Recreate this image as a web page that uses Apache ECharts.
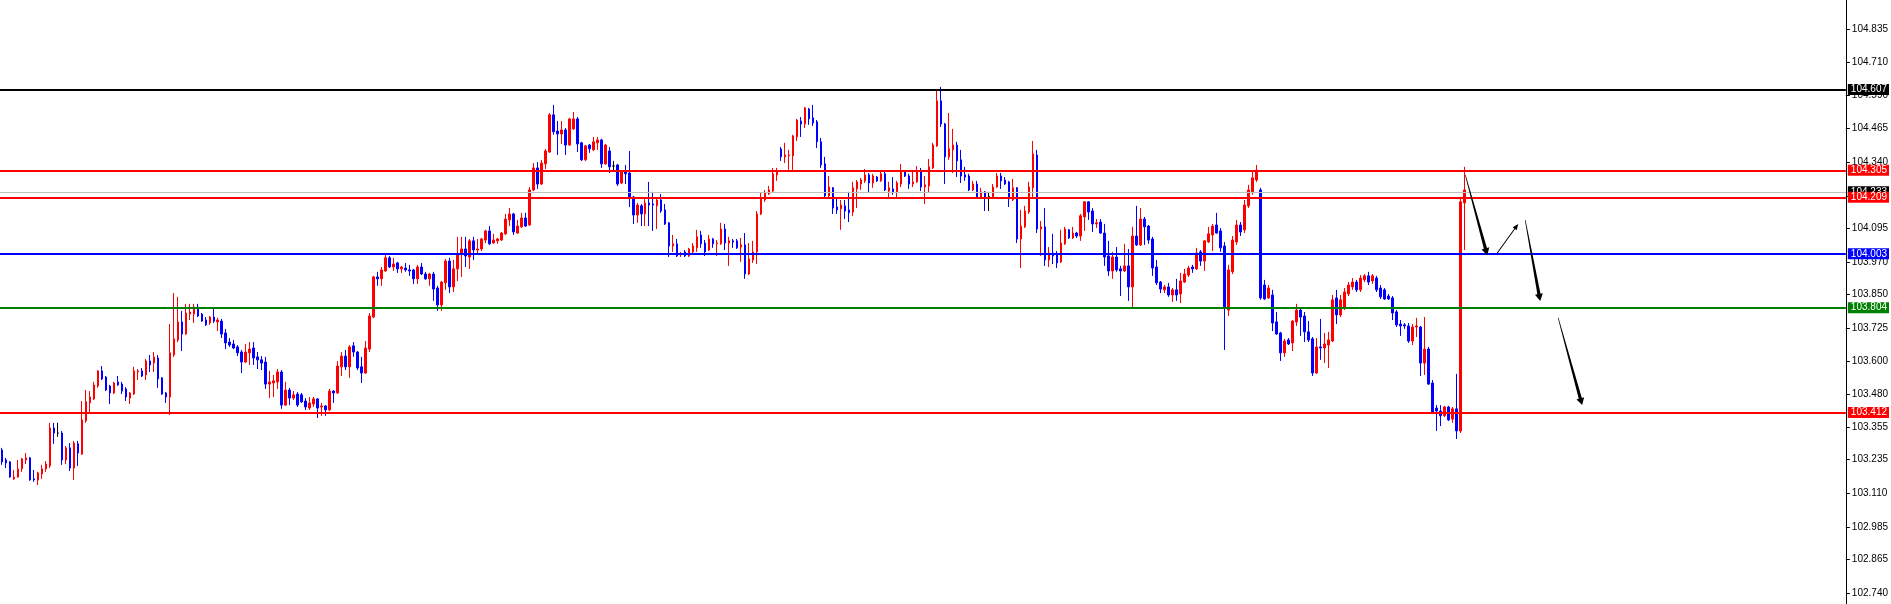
<!DOCTYPE html>
<html><head><meta charset="utf-8">
<script src="https://cdn.jsdelivr.net/npm/echarts@6/dist/echarts.min.js"></script>
<style>html,body{margin:0;padding:0;background:#fff;}#c{width:1891px;height:604px;}</style>
</head><body><div id="c"></div>
<script>
const opens = [
103.271,103.234,103.227,103.164,103.171,103.201,103.234,103.242,103.164,103.160,
103.182,103.201,103.212,103.353,103.334,103.334,103.234,103.279,103.204,103.294,
103.256,103.379,103.446,103.461,103.509,103.565,103.542,103.509,103.483,103.524,
103.516,103.498,103.464,103.479,103.561,103.565,103.550,103.602,103.594,103.613,
103.539,103.483,103.468,103.624,103.680,103.747,103.702,103.776,103.776,103.802,
103.776,103.754,103.743,103.765,103.747,103.750,103.706,103.672,103.665,103.654,
103.635,103.598,103.632,103.650,103.617,103.606,103.598,103.516,103.520,103.524,
103.561,103.438,103.494,103.464,103.479,103.476,103.453,103.427,103.442,103.461,
103.431,103.435,103.420,103.490,103.483,103.580,103.620,103.580,103.658,103.635,
103.580,103.557,103.646,103.765,103.914,103.907,103.936,103.985,103.951,103.966,
103.944,103.947,103.940,103.940,103.907,103.951,103.925,103.907,103.925,103.873,
103.810,103.892,103.973,103.877,103.944,103.999,104.018,103.988,104.048,104.014,
104.018,104.051,104.085,104.040,104.048,104.051,104.074,104.126,104.148,104.077,
104.100,104.133,104.107,104.237,104.319,104.259,104.334,104.378,104.516,104.456,
104.445,104.460,104.404,104.464,104.501,104.412,104.349,104.404,104.386,104.412,
104.423,104.334,104.382,104.326,104.330,104.263,104.304,104.300,104.211,104.144,
104.178,104.148,104.189,104.185,104.178,104.200,104.163,104.115,104.029,104.037,
103.996,104.007,103.992,104.007,104.022,104.070,104.040,104.014,104.055,104.037,
104.037,104.092,104.040,104.048,104.048,104.025,104.033,103.925,103.977,104.007,
104.148,104.200,104.222,104.233,104.293,104.389,104.360,104.364,104.364,104.434,
104.493,104.482,104.538,104.505,104.490,104.416,104.334,104.215,104.245,104.174,
104.167,104.178,104.163,104.155,104.241,104.259,104.271,104.293,104.263,104.285,
104.271,104.297,104.233,104.241,104.230,104.259,104.304,104.289,104.259,104.267,
104.308,104.248,104.252,104.319,104.401,104.568,104.482,104.360,104.386,104.404,
104.349,104.293,104.289,104.237,104.259,104.211,104.230,104.213,104.211,104.248,
104.289,104.274,104.267,104.200,104.245,104.055,104.100,104.155,104.245,104.367,
104.092,104.100,103.977,104.003,103.996,103.970,104.037,104.089,104.059,104.077,
104.066,104.137,104.193,104.159,104.111,104.118,104.077,103.992,103.936,103.988,
103.944,103.936,103.955,103.877,104.066,104.033,104.129,104.103,104.055,103.951,
103.895,103.866,103.877,103.847,103.866,103.851,103.895,103.921,103.951,103.944,
104.007,103.973,104.044,104.070,104.107,104.085,104.029,103.791,103.933,104.044,
104.107,104.089,104.178,104.230,104.274,104.237,103.884,103.836,103.847,103.747,
103.706,103.632,103.680,103.669,103.747,103.791,103.769,103.710,103.684,103.557,
103.654,103.650,103.661,103.676,103.836,103.773,103.799,103.851,103.877,103.895,
103.866,103.903,103.918,103.899,103.910,103.873,103.866,103.843,103.836,103.784,
103.739,103.736,103.732,103.676,103.728,103.728,103.594,103.646,103.520,103.427,
103.416,103.398,103.431,103.386,103.424,103.342,104.189
];
const closes = [
103.227,103.223,103.171,103.171,103.201,103.238,103.242,103.160,103.160,103.186,
103.201,103.219,103.353,103.334,103.334,103.234,103.279,103.204,103.297,103.260,
103.383,103.450,103.468,103.513,103.565,103.535,103.494,103.483,103.520,103.513,
103.490,103.468,103.483,103.565,103.565,103.546,103.602,103.587,103.617,103.535,
103.479,103.468,103.632,103.684,103.747,103.702,103.780,103.784,103.802,103.769,
103.750,103.736,103.765,103.750,103.754,103.702,103.669,103.661,103.650,103.632,
103.598,103.635,103.646,103.613,103.606,103.594,103.516,103.524,103.528,103.561,
103.438,103.494,103.464,103.476,103.438,103.450,103.431,103.446,103.461,103.427,
103.435,103.420,103.490,103.483,103.583,103.620,103.580,103.654,103.635,103.576,
103.557,103.650,103.769,103.914,103.907,103.940,103.985,103.951,103.962,103.944,
103.951,103.940,103.936,103.907,103.951,103.925,103.907,103.925,103.869,103.810,
103.895,103.973,103.877,103.944,103.999,104.018,103.992,104.048,104.014,104.018,
104.055,104.085,104.037,104.051,104.055,104.077,104.129,104.148,104.081,104.103,
104.133,104.103,104.237,104.319,104.259,104.337,104.382,104.516,104.453,104.445,
104.460,104.404,104.501,104.501,104.408,104.349,104.401,104.390,104.416,104.423,
104.334,104.404,104.323,104.326,104.259,104.304,104.297,104.207,104.144,104.181,
104.148,104.189,104.181,104.181,104.200,104.159,104.111,104.029,104.037,103.992,
103.999,103.992,104.018,104.029,104.063,104.037,104.007,104.055,104.037,104.040,
104.092,104.040,104.048,104.044,104.022,104.033,103.925,103.981,104.007,104.148,
104.204,104.226,104.237,104.297,104.304,104.360,104.367,104.367,104.438,104.497,
104.482,104.542,104.501,104.486,104.416,104.330,104.215,104.248,104.170,104.163,
104.181,104.159,104.152,104.245,104.267,104.274,104.293,104.263,104.289,104.271,
104.297,104.237,104.245,104.230,104.263,104.304,104.289,104.259,104.267,104.308,
104.248,104.256,104.323,104.404,104.568,104.482,104.360,104.390,104.404,104.345,
104.289,104.285,104.237,104.259,104.211,104.230,104.211,104.213,104.248,104.289,
104.271,104.259,104.204,104.245,104.055,104.103,104.159,104.248,104.371,104.092,
104.100,103.977,104.003,103.992,103.966,104.040,104.092,104.059,104.077,104.066,
104.141,104.193,104.155,104.111,104.115,104.077,103.988,103.936,103.988,103.940,
103.936,103.955,103.877,104.066,104.033,104.129,104.100,104.051,103.947,103.892,
103.869,103.877,103.847,103.866,103.847,103.899,103.925,103.947,103.944,104.003,
103.973,104.048,104.074,104.103,104.077,104.022,103.799,103.940,104.051,104.107,
104.081,104.181,104.237,104.282,104.311,103.836,103.832,103.873,103.743,103.702,
103.632,103.676,103.665,103.750,103.791,103.765,103.710,103.680,103.557,103.654,
103.650,103.665,103.680,103.829,103.773,103.829,103.858,103.884,103.895,103.866,
103.910,103.918,103.895,103.918,103.866,103.840,103.832,103.832,103.780,103.736,
103.732,103.732,103.676,103.728,103.732,103.594,103.646,103.516,103.412,103.416,
103.398,103.431,103.383,103.424,103.342,104.193,104.237
];
const lows = [
103.216,103.204,103.168,103.160,103.168,103.190,103.219,103.157,103.153,103.141,
103.164,103.190,103.204,103.294,103.320,103.216,103.219,103.193,103.160,103.212,
103.253,103.372,103.412,103.457,103.502,103.531,103.490,103.442,103.479,103.509,
103.479,103.453,103.442,103.476,103.531,103.542,103.531,103.561,103.561,103.502,
103.476,103.446,103.401,103.617,103.672,103.639,103.699,103.754,103.743,103.765,
103.747,103.732,103.736,103.743,103.713,103.687,103.646,103.654,103.646,103.620,
103.557,103.594,103.587,103.587,103.572,103.568,103.498,103.464,103.468,103.498,
103.424,103.435,103.438,103.457,103.431,103.446,103.420,103.420,103.431,103.390,
103.398,103.398,103.416,103.446,103.479,103.546,103.568,103.539,103.617,103.568,
103.520,103.554,103.635,103.761,103.881,103.881,103.933,103.947,103.936,103.929,
103.929,103.933,103.918,103.888,103.888,103.921,103.903,103.881,103.825,103.788,
103.788,103.866,103.854,103.858,103.899,103.914,103.951,103.944,103.977,103.996,
104.010,104.040,104.033,104.037,104.037,104.048,104.070,104.103,104.070,104.074,
104.096,104.100,104.103,104.233,104.241,104.256,104.315,104.375,104.442,104.367,
104.408,104.367,104.401,104.460,104.378,104.345,104.345,104.375,104.382,104.386,
104.319,104.330,104.300,104.308,104.252,104.259,104.259,104.174,104.111,104.115,
104.103,104.103,104.103,104.085,104.092,104.152,104.107,103.988,104.007,103.988,
103.988,103.988,103.988,103.999,104.007,104.022,103.992,104.010,104.022,103.992,
104.033,104.014,103.955,104.022,104.018,103.970,103.907,103.921,103.966,103.962,
104.144,104.193,104.219,104.230,104.271,104.345,104.337,104.308,104.308,104.419,
104.434,104.467,104.479,104.475,104.393,104.319,104.211,104.211,104.148,104.148,
104.089,104.129,104.118,104.141,104.170,104.237,104.263,104.226,104.245,104.267,
104.267,104.233,104.211,104.219,104.204,104.248,104.285,104.241,104.248,104.263,
104.233,104.185,104.226,104.315,104.397,104.471,104.259,104.349,104.300,104.285,
104.263,104.271,104.233,104.233,104.207,104.204,104.159,104.159,104.207,104.245,
104.241,104.256,104.174,104.196,104.040,103.947,104.096,104.148,104.204,104.077,
103.992,103.955,103.951,103.962,103.947,103.966,104.033,104.055,104.055,104.059,
104.048,104.085,104.126,104.081,104.096,104.074,103.955,103.918,103.907,103.933,
103.843,103.933,103.825,103.795,104.029,104.029,104.033,104.037,103.918,103.884,
103.854,103.854,103.840,103.821,103.825,103.817,103.892,103.914,103.929,103.940,
103.955,103.936,104.040,104.010,104.074,104.007,103.643,103.769,103.925,104.033,
104.066,104.077,104.170,104.219,104.267,103.829,103.829,103.832,103.713,103.699,
103.602,103.617,103.661,103.639,103.732,103.695,103.672,103.672,103.546,103.554,
103.606,103.594,103.576,103.672,103.739,103.765,103.791,103.843,103.866,103.858,
103.858,103.895,103.884,103.888,103.858,103.832,103.829,103.829,103.754,103.728,
103.695,103.721,103.669,103.661,103.691,103.546,103.550,103.513,103.409,103.342,
103.360,103.394,103.379,103.372,103.312,103.334,104.014
];
const highs = [
103.279,103.242,103.230,103.197,103.234,103.242,103.260,103.245,103.197,103.190,
103.216,103.230,103.372,103.372,103.372,103.342,103.286,103.297,103.305,103.305,
103.453,103.494,103.490,103.524,103.568,103.583,103.546,103.513,103.524,103.546,
103.524,103.505,103.487,103.580,103.572,103.576,103.609,103.624,103.635,103.624,
103.542,103.487,103.739,103.854,103.840,103.788,103.814,103.814,103.814,103.814,
103.780,103.765,103.769,103.802,103.762,103.758,103.721,103.687,103.680,103.661,
103.643,103.665,103.672,103.672,103.635,103.620,103.617,103.565,103.550,103.572,
103.568,103.524,103.502,103.490,103.487,103.483,103.464,103.468,103.468,103.464,
103.446,103.438,103.498,103.494,103.602,103.635,103.643,103.661,103.672,103.639,
103.617,103.676,103.780,103.918,103.933,103.951,103.996,103.992,103.985,103.970,
103.955,103.966,103.959,103.944,103.959,103.966,103.933,103.929,103.933,103.881,
103.899,103.981,103.985,103.977,104.063,104.063,104.063,104.055,104.063,104.055,
104.059,104.089,104.103,104.074,104.059,104.081,104.148,104.170,104.152,104.126,
104.152,104.152,104.248,104.337,104.341,104.349,104.389,104.523,104.553,104.493,
104.493,104.467,104.505,104.527,104.508,104.416,104.404,104.408,104.434,104.434,
104.427,104.408,104.397,104.345,104.334,104.308,104.330,104.382,104.215,104.189,
104.185,104.211,104.267,104.230,104.211,104.222,104.185,104.118,104.070,104.055,
104.007,104.014,104.022,104.040,104.089,104.085,104.051,104.070,104.059,104.051,
104.115,104.111,104.063,104.055,104.055,104.059,104.077,104.040,104.048,104.159,
104.226,104.237,104.252,104.319,104.319,104.397,104.412,104.386,104.442,104.501,
104.508,104.545,104.542,104.553,104.497,104.430,104.360,104.289,104.248,104.204,
104.200,104.200,104.230,104.267,104.274,104.282,104.315,104.300,104.297,104.289,
104.304,104.304,104.267,104.285,104.271,104.334,104.308,104.297,104.304,104.326,
104.319,104.289,104.352,104.412,104.612,104.620,104.486,104.523,104.464,104.416,
104.386,104.323,104.297,104.271,104.271,104.245,104.233,104.230,104.259,104.300,
104.300,104.285,104.271,104.278,104.248,104.163,104.178,104.267,104.419,104.386,
104.122,104.170,104.025,104.074,104.010,104.089,104.100,104.092,104.100,104.081,
104.148,104.196,104.196,104.170,104.129,104.129,104.111,104.048,104.007,104.025,
103.955,104.037,104.018,104.100,104.178,104.170,104.137,104.107,104.063,103.977,
103.899,103.884,103.892,103.873,103.907,103.929,103.944,103.955,103.959,104.022,
104.014,104.051,104.100,104.111,104.152,104.096,104.044,103.959,104.066,104.126,
104.118,104.200,104.256,104.304,104.330,104.245,103.903,103.884,103.866,103.784,
103.710,103.684,103.687,103.754,103.814,103.795,103.784,103.750,103.691,103.687,
103.758,103.706,103.710,103.847,103.866,103.847,103.873,103.895,103.910,103.903,
103.921,103.925,103.933,103.925,103.918,103.884,103.873,103.851,103.843,103.791,
103.754,103.743,103.743,103.739,103.762,103.732,103.765,103.654,103.531,103.438,
103.438,103.435,103.435,103.431,103.554,104.211,104.323
];
const slotCount = 462;
const categories = Array.from({length: slotCount}, (_, i) => String(i));
const tickValues = [104.835,104.710,104.590,104.465,104.340,104.215,104.095,103.970,103.850,103.725,103.600,103.480,103.355,103.235,103.110,102.985,102.865,102.740];
const levelValues = [104.607, 104.305, 104.233, 104.209, 104.003, 103.804, 103.412];
const levelColors = ['#000000', '#ff0000', '#c0c0c0', '#ff0000', '#0000ff', '#008000', '#ff0000'];
const levelLabelBg = ['#000000', '#ff0000', '#000000', '#ff0000', '#0000ff', '#008000', '#ff0000'];
const levelWidths = [2, 2, 1, 2, 2, 2, 2];
// arrows in [candle index, price]
const arrowFrom = [[366.25,104.293],[374.25,104.003],[381.25,104.125],[389.5,103.762]];
const arrowTo   = [[371.75,103.995],[379.5,104.111],[385.0,103.825],[395.5,103.438]];
const arrowKind = ['wedge','thin','wedge','wedge'];

const chart = echarts.init(document.getElementById('c'), null, {renderer:'canvas'});
const candleData = opens.map((o,i)=>[o, closes[i], lows[i], highs[i]]);
chart.setOption({
  animation:false,
  backgroundColor:'#ffffff',
  grid:{left:-2, right:45, top:0, bottom:0, containLabel:false},
  xAxis:{type:'category', data:categories, show:false, boundaryGap:true},
  yAxis:{
    type:'value', position:'right', min:102.6991, max:104.9427, scale:true,
    axisLine:{show:true, onZero:false, lineStyle:{color:'#000', width:1}},
    axisTick:{show:true, inside:false, length:4, customValues:tickValues, lineStyle:{color:'#000'}},
    axisLabel:{show:true, customValues:tickValues, margin:6, color:'#000', fontSize:10, fontFamily:'Liberation Sans, Arial, sans-serif',
      formatter:(v)=>Number(v).toFixed(3)},
    splitLine:{show:false}
  },
  series:[{
    type:'candlestick',
    data:candleData,
    barWidth:2,
    itemStyle:{color:'#ff0000', color0:'#0000ff', borderColor:'#ff0000', borderColor0:'#0000ff', borderColorDoji:'#000000', borderWidth:1},
    markLine:{
      silent:true, symbol:['none','none'], animation:false,
      data: levelValues.map((v,i)=>({
        yAxis:v,
        lineStyle:{color:levelColors[i], width:levelWidths[i], type:'solid'},
        label:{show:true, position:'end', distance:2, formatter:v.toFixed(3), color:'#fff',
          backgroundColor:levelLabelBg[i], padding:[1,2,0,3], fontSize:10, lineHeight:10,
          fontFamily:'Liberation Sans, Arial, sans-serif'}
      }))
    }
  }]
});

function px(pt){
  const a = chart.convertToPixel({gridIndex:0}, [0, 104]);
  const b = chart.convertToPixel({gridIndex:0}, [100, 103]);
  const sx = (b[0]-a[0])/100, sy = (b[1]-a[1])/1;
  return [a[0] + pt[0]*sx, a[1] + (104 - pt[1])*sy];
}
const graphics = [];
for (let i=0;i<arrowFrom.length;i++){
  const A = px(arrowFrom[i]), B = px(arrowTo[i]);
  const dx=B[0]-A[0], dy=B[1]-A[1], L=Math.hypot(dx,dy);
  const ux=dx/L, uy=dy/L, nx=-uy, ny=ux;
  const thin = arrowKind[i]==='thin';
  const hl = thin?6:7, hw = thin?5:8, w0 = thin?1:0.6, w1 = thin?1:3.2;
  const H=[B[0]-ux*hl, B[1]-uy*hl];
  const pts=[
    [A[0]+nx*w0/2, A[1]+ny*w0/2],
    [H[0]+nx*w1/2, H[1]+ny*w1/2],
    [H[0]+nx*hw/2, H[1]+ny*hw/2],
    B,
    [H[0]-nx*hw/2, H[1]-ny*hw/2],
    [H[0]-nx*w1/2, H[1]-ny*w1/2],
    [A[0]-nx*w0/2, A[1]-ny*w0/2]
  ];
  graphics.push({type:'polygon', shape:{points:pts}, style:{fill:'#000'}, z:100, silent:true});
}
chart.setOption({graphic:graphics});
</script>
</body></html>
